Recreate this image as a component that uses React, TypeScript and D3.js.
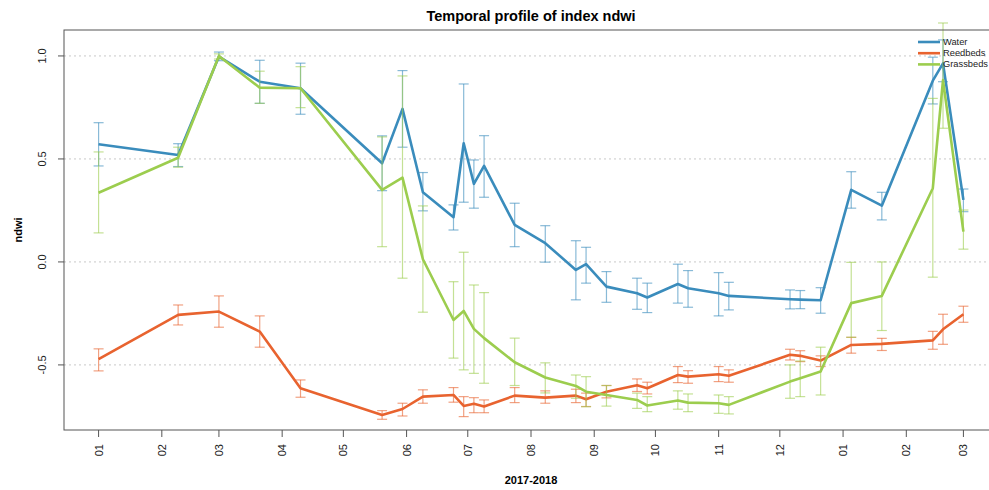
import React from 'react';
import * as d3 from 'd3';

// acquisition dates (2017-2018)
const dates = [
  '2017-01-01', '2017-02-09', '2017-03-01', '2017-03-21', '2017-04-10', '2017-05-20',
  '2017-05-30', '2017-06-09', '2017-06-24', '2017-06-29', '2017-07-04', '2017-07-09',
  '2017-07-24', '2017-08-08', '2017-08-23', '2017-08-28', '2017-09-07', '2017-09-22',
  '2017-09-27', '2017-10-12', '2017-10-17', '2017-11-01', '2017-11-06', '2017-12-06',
  '2017-12-11', '2017-12-21', '2018-01-05', '2018-01-20', '2018-02-14', '2018-02-19',
  '2018-03-01',
];

const waterMean = [0.571, 0.519, 0.997, 0.875, 0.843, 0.479, 0.743, 0.338, 0.217, 0.576, 0.379, 0.466, 0.18, 0.091, -0.039, -0.011, -0.12, -0.152, -0.173, -0.107, -0.128, -0.152, -0.165, -0.181, -0.183, -0.186, 0.35, 0.273, 0.88, 0.964, 0.301];
const waterLow = [0.466, 0.463, 0.977, 0.77, 0.717, 0.346, 0.557, 0.248, 0.155, 0.29, 0.261, 0.314, 0.074, -0.001, -0.184, -0.103, -0.196, -0.23, -0.246, -0.2, -0.22, -0.262, -0.233, -0.228, -0.227, -0.249, 0.261, 0.204, 0.767, 0.875, 0.244];
const waterHigh = [0.676, 0.574, 1.019, 0.979, 0.965, 0.612, 0.929, 0.434, 0.277, 0.864, 0.495, 0.613, 0.285, 0.176, 0.103, 0.071, -0.047, -0.079, -0.103, -0.011, -0.042, -0.052, -0.099, -0.136, -0.139, -0.125, 0.438, 0.338, 0.994, 1.078, 0.354];

const reedMean = [-0.472, -0.257, -0.241, -0.338, -0.613, -0.743, -0.714, -0.654, -0.646, -0.699, -0.689, -0.702, -0.649, -0.659, -0.649, -0.667, -0.63, -0.599, -0.613, -0.549, -0.557, -0.545, -0.553, -0.451, -0.456, -0.479, -0.403, -0.398, -0.381, -0.327, -0.254];
const reedLow = [-0.529, -0.306, -0.317, -0.414, -0.657, -0.764, -0.748, -0.686, -0.681, -0.751, -0.732, -0.732, -0.683, -0.686, -0.683, -0.702, -0.66, -0.629, -0.641, -0.586, -0.589, -0.581, -0.584, -0.476, -0.484, -0.508, -0.443, -0.43, -0.424, -0.4, -0.293];
const reedHigh = [-0.422, -0.209, -0.165, -0.262, -0.573, -0.722, -0.686, -0.621, -0.61, -0.654, -0.659, -0.67, -0.61, -0.626, -0.618, -0.637, -0.6, -0.568, -0.584, -0.508, -0.528, -0.508, -0.524, -0.424, -0.431, -0.456, -0.366, -0.371, -0.337, -0.254, -0.215];

const grassMean = [0.336, 0.506, 1.0, 0.846, 0.843, 0.35, 0.409, 0.013, -0.282, -0.238, -0.325, -0.37, -0.487, -0.561, -0.602, -0.63, -0.646, -0.67, -0.697, -0.673, -0.683, -0.686, -0.694, -0.581, -0.565, -0.532, -0.2, -0.165, 0.358, 0.883, 0.147];
const grassLow = [0.141, 0.46, 0.985, 0.77, 0.749, 0.074, -0.079, -0.244, -0.467, -0.524, -0.541, -0.589, -0.6, -0.636, -0.662, -0.703, -0.7, -0.711, -0.727, -0.715, -0.727, -0.735, -0.738, -0.662, -0.654, -0.646, -0.366, -0.333, -0.074, 0.649, 0.062];
const grassHigh = [0.534, 0.557, 1.01, 0.926, 0.948, 0.607, 0.903, 0.272, -0.096, 0.047, -0.112, -0.149, -0.37, -0.49, -0.549, -0.557, -0.6, -0.637, -0.654, -0.626, -0.641, -0.646, -0.654, -0.5, -0.481, -0.414, -0.002, 0.0, 0.794, 1.16, 0.252];

const seriesNames = ['Water', 'Reedbeds', 'Grassbeds'];
const seriesColors = ['#3a8cbc', '#e8632f', '#9ccd4e'];
const yTicks = [-0.5, 0.0, 0.5, 1.0];
const monthTicks = [
  '2017-01-01', '2017-02-01', '2017-03-01', '2017-04-01', '2017-05-01', '2017-06-01', '2017-07-01',
  '2017-08-01', '2017-09-01', '2017-10-01', '2017-11-01', '2017-12-01', '2018-01-01', '2018-02-01',
  '2018-03-01',
];

const W = 989;
const H = 490;
const left = 64;
const right = 998;
const top = 30;
const bottom = 430;

const parse = d3.utcParse('%Y-%m-%d');

export default function App() {
  const t = dates.map(d => parse(d) as Date);
  const t0 = +t[0];
  const t1 = +t[t.length - 1];
  const pad = (t1 - t0) * 0.04;
  const x = d3.scaleUtc().domain([new Date(t0 - pad), new Date(t1 + pad)]).range([left, right]);
  const y = d3.scaleLinear().domain([-0.816, 1.126]).range([bottom, top]);

  const series = [
    { mean: waterMean, low: waterLow, high: waterHigh },
    { mean: reedMean, low: reedLow, high: reedHigh },
    { mean: grassMean, low: grassLow, high: grassHigh },
  ];

  const line = d3.line<number>()
    .x((_, i) => x(t[i]))
    .y(d => y(d));

  const fmtMonth = d3.utcFormat('%m');
  const font = 'Liberation Sans, Arial, Helvetica, sans-serif';

  return (
    <svg width={W} height={H} style={{ position: 'absolute', left: 0, top: 0, background: '#fff' }} fontFamily={font}>
      <text x={(left + right) / 2} y={21} textAnchor="middle" fontSize={14.5} fontWeight="bold">
        Temporal profile of index ndwi
      </text>

      {/* grid */}
      {yTicks.map(v => (
        <line key={'g' + v} x1={left} x2={right} y1={y(v)} y2={y(v)}
          stroke="#c8c8c8" strokeWidth={1} strokeDasharray="2,3" />
      ))}

      {/* series: error bars + lines */}
      {series.map((s, k) => (
        <g key={seriesNames[k]}>
          {s.mean.map((_, i) => {
            const cx = x(t[i]);
            const yl = y(s.low[i]);
            const yh = y(s.high[i]);
            return (
              <g key={i} stroke={seriesColors[k]} strokeOpacity={0.6} strokeWidth={1.2}>
                <line x1={cx} x2={cx} y1={yl} y2={yh} />
                <line x1={cx - 5} x2={cx + 5} y1={yl} y2={yl} />
                <line x1={cx - 5} x2={cx + 5} y1={yh} y2={yh} />
              </g>
            );
          })}
          <path d={line(s.mean) || ''} fill="none" stroke={seriesColors[k]} strokeWidth={2.6}
            strokeLinejoin="round" />
        </g>
      ))}

      {/* frame */}
      <rect x={left} y={top} width={right - left} height={bottom - top} fill="none" stroke="#555" strokeWidth={1} />

      {/* y axis */}
      {yTicks.map(v => (
        <g key={'y' + v}>
          <line x1={left - 6} x2={left} y1={y(v)} y2={y(v)} stroke="#555" />
          <text transform={`translate(42,${y(v)}) rotate(-90)`} textAnchor="middle"
            dominantBaseline="central" fontSize={11} fill="#222">
            {v.toFixed(1)}
          </text>
        </g>
      ))}
      <text transform={`translate(18,${(top + bottom) / 2}) rotate(-90)`} textAnchor="middle"
        dominantBaseline="central" fontSize={11} fontWeight="bold">ndwi</text>

      {/* x axis */}
      {monthTicks.map(m => {
        const d = parse(m) as Date;
        const px = x(d);
        return (
          <g key={m}>
            <line x1={px} x2={px} y1={bottom} y2={bottom + 7} stroke="#555" />
            <text transform={`translate(${px},${bottom + 14}) rotate(-90)`} textAnchor="end"
              dominantBaseline="central" fontSize={11} fill="#222">
              {fmtMonth(d)}
            </text>
          </g>
        );
      })}
      <text x={(left + right) / 2} y={484} textAnchor="middle" fontSize={11} fontWeight="bold">2017-2018</text>

      {/* legend */}
      {seriesNames.map((n, k) => (
        <g key={'l' + n}>
          <line x1={918} x2={940} y1={42 + k * 11.2} y2={42 + k * 11.2} stroke={seriesColors[k]} strokeWidth={2.6} />
          <text x={943} y={42 + k * 11.2} dominantBaseline="central" fontSize={9.3} fill="#222">{n}</text>
        </g>
      ))}
    </svg>
  );
}
